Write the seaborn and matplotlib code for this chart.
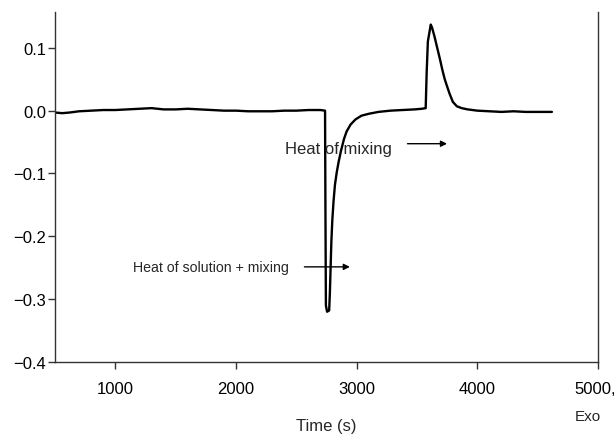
import matplotlib
matplotlib.use("Agg")
import matplotlib.pyplot as plt
import matplotlib.transforms as mtransforms
import seaborn as sns
import pandas as pd

# Heat flow trace (time in s, signal)
time_s = [500, 560, 620, 700, 800, 900, 1000, 1100, 1200, 1300, 1400, 1500, 1600, 1700,
          1800, 1900, 2000, 2100, 2200, 2300, 2400, 2500, 2600, 2700, 2738,
          2741, 2745, 2755, 2772, 2778, 2784, 2790, 2798, 2808, 2820, 2835, 2850, 2870,
          2895, 2917, 2950, 2990, 3040, 3100, 3180, 3280, 3380, 3480, 3540, 3572,
          3580, 3590, 3614, 3625, 3645, 3665, 3689, 3710, 3730, 3747, 3770, 3797, 3830,
          3870, 3920, 4000, 4100, 4200, 4300, 4400, 4500, 4618]
signal = [-0.003, -0.004, -0.003, -0.001, 0.000, 0.001, 0.001, 0.002, 0.003, 0.004, 0.002, 0.002, 0.003, 0.002,
          0.001, 0.000, 0.000, -0.001, -0.001, -0.001, 0.000, 0.000, 0.001, 0.001, 0.000,
          -0.15, -0.31, -0.320, -0.318, -0.29, -0.25, -0.21, -0.175, -0.145, -0.118, -0.098, -0.082, -0.064,
          -0.045, -0.033, -0.022, -0.014, -0.008, -0.005, -0.002, 0.000, 0.001, 0.002, 0.003, 0.004,
          0.060, 0.110, 0.137, 0.132, 0.118, 0.102, 0.083, 0.065, 0.050, 0.040, 0.027, 0.014, 0.007,
          0.004, 0.002, 0.000, -0.001, -0.002, -0.001, -0.002, -0.002, -0.002]

x_ticks = [1000, 2000, 3000, 4000, 5000]
x_tick_labels = ["1000", "2000", "3000", "4000", "5000,"]
y_ticks = [-0.4, -0.3, -0.2, -0.1, 0.0, 0.1]

df = pd.DataFrame({"Time (s)": time_s, "signal": signal})

sns.set_style("ticks")
plt.rcParams["font.family"] = ["Liberation Sans", "DejaVu Sans"]
plt.rcParams["axes.unicode_minus"] = True

fig = plt.figure(figsize=(6.16, 4.35), dpi=100)
ax = fig.add_axes([55 / 616, 1 - 363 / 435, (598 - 55) / 616, (363 - 13) / 435])

sns.lineplot(data=df, x="Time (s)", y="signal", ax=ax, color="black", linewidth=1.7,
             sort=False, estimator=None)

ax.set_xlim(500, 5000)
ax.set_ylim(-0.4, 0.157)
ax.set_xticks(x_ticks)
ax.set_xticklabels(x_tick_labels)
ax.set_yticks(y_ticks)
ax.set_yticklabels([f"{v:.1f}".replace("-", "\u2212") for v in y_ticks])

ax.set_xlabel("Time (s)", fontsize=12, labelpad=16)
ax.set_ylabel("")

for s in ["left", "bottom", "right"]:
    ax.spines[s].set_color("#333333")
    ax.spines[s].set_linewidth(1.0)
ax.spines["top"].set_visible(False)

ax.tick_params(axis="x", direction="out", length=5, width=1, pad=8.5, labelsize=12, colors="#333333", labelcolor="black")
ax.tick_params(axis="y", direction="out", length=5, width=1, pad=1.5, labelsize=12, colors="#333333", labelcolor="black")

# last tick label sits left-aligned so it ends at the figure edge
last = ax.get_xticklabels()[-1]
last.set_horizontalalignment("left")
last.set_transform(last.get_transform() + mtransforms.ScaledTranslation(-24 / 100, 0, fig.dpi_scale_trans))

# annotations
ax.text(2402, -0.060, "Heat of mixing", fontsize=12, ha="left", va="center")
ax.annotate("", xy=(3772, -0.0526), xytext=(3398, -0.0526),
            arrowprops=dict(arrowstyle="-|>", color="black", lw=1, mutation_scale=9))
ax.text(2436, -0.2486, "Heat of solution + mixing", fontsize=10.2, ha="right", va="center")
ax.annotate("", xy=(2967, -0.2486), xytext=(2544, -0.2486),
            arrowprops=dict(arrowstyle="-|>", color="black", lw=1, mutation_scale=9))

fig.text(588 / 616, 1 - 417 / 435, "Exo", fontsize=11, ha="center", va="center")

fig.savefig("out.png", dpi=100)
